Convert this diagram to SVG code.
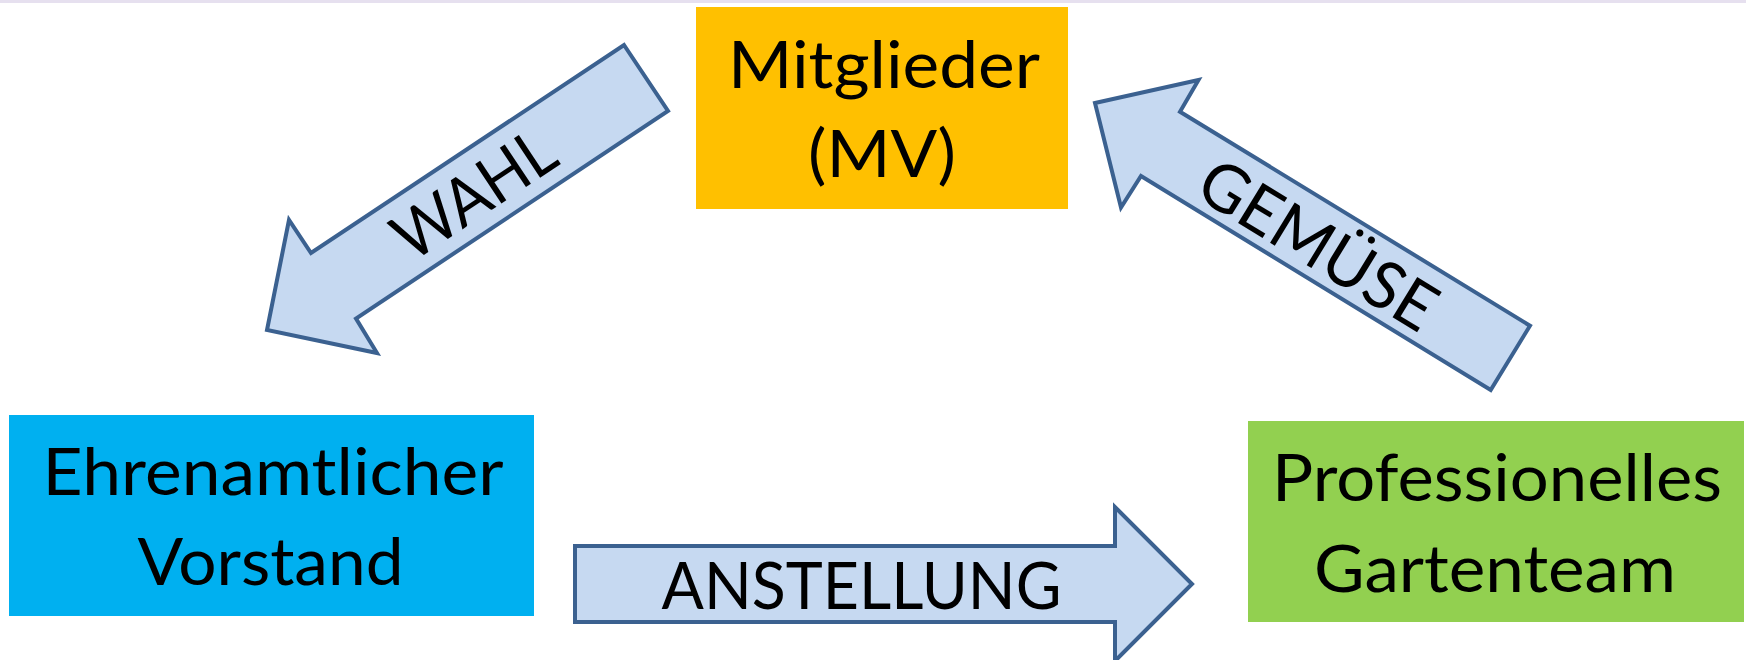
<svg xmlns="http://www.w3.org/2000/svg" width="1746" height="660" viewBox="0 0 1746 660">
  <style>
    .label { font-family: Lato, "Open Sans", "Liberation Sans", sans-serif; font-size: 66px; fill: #000000; text-anchor: middle; }
    .arrow { fill: #c6d9f1; stroke: #3b6190; stroke-width: 4; stroke-linejoin: miter; }
  </style>
  <rect x="0" y="0" width="1746" height="660" fill="#ffffff"/>
  <rect x="0" y="0" width="1746" height="3" fill="#e6e0ef"/>

  <!-- Nodes -->
  <g id="mitglieder">
    <rect x="696" y="7" width="372" height="202" fill="#ffc000"/>
    <text class="label" x="884" y="88" textLength="312" lengthAdjust="spacingAndGlyphs">Mitglieder</text>
    <text class="label" x="882" y="177" textLength="148" lengthAdjust="spacingAndGlyphs">(MV)</text>
  </g>
  <g id="vorstand">
    <rect x="9" y="415" width="525" height="201" fill="#00b0f0"/>
    <text class="label" x="273" y="495" textLength="461" lengthAdjust="spacingAndGlyphs">Ehrenamtlicher</text>
    <text class="label" x="270.5" y="585" textLength="266" lengthAdjust="spacingAndGlyphs">Vorstand</text>
  </g>
  <g id="gartenteam">
    <rect x="1248" y="421" width="496" height="201" fill="#92d050"/>
    <text class="label" x="1497" y="501" textLength="450" lengthAdjust="spacingAndGlyphs">Professionelles</text>
    <text class="label" x="1495" y="592" textLength="362" lengthAdjust="spacingAndGlyphs">Gartenteam</text>
  </g>

  <!-- Connectors -->
  <g id="connectors">
    <g id="wahl">
      <polygon class="arrow" points="624,45 668,111 356,318.5 377,353 267,330 289,220 311,253"/>
      <text class="label" transform="translate(474,194) rotate(-33.6)" x="0" y="23" textLength="180" lengthAdjust="spacingAndGlyphs">WAHL</text>
    </g>
    <g id="gemuese">
      <polygon class="arrow" points="1095,103 1198.5,80 1180,111.7 1530,325.7 1490.7,390 1141,176 1121,207.5"/>
      <text class="label" transform="translate(1318,245) rotate(31.4)" x="0" y="23" textLength="266" lengthAdjust="spacingAndGlyphs">GEMÜSE</text>
    </g>
    <g id="anstellung">
      <polygon class="arrow" points="575,546 1115,546 1115,507 1192,584 1115,661 1115,622 575,622"/>
      <text class="label" x="861.5" y="609" textLength="400" lengthAdjust="spacingAndGlyphs">ANSTELLUNG</text>
    </g>
  </g>
</svg>
